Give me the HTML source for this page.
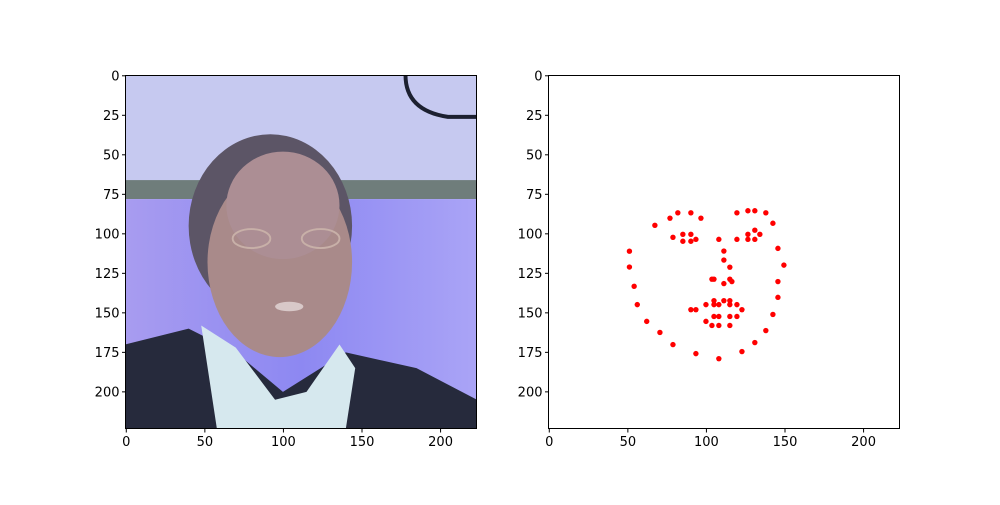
<!DOCTYPE html>
<html><head><meta charset="utf-8"><style>
body{margin:0;background:#fff;}
svg text{font-family:"DejaVu Sans","Liberation Sans",sans-serif;font-size:13px;fill:#000;}
</style></head><body>
<svg width="1000" height="500" viewBox="0 0 1000 500" xmlns="http://www.w3.org/2000/svg">
<rect width="1000" height="500" fill="#fff"/>
<g>
<svg x="125" y="75" width="352" height="354" viewBox="-0.5 -0.5 224 224" preserveAspectRatio="none">
<rect x="-0.5" y="-0.5" width="224" height="68" fill="#c6c9f0"/>
<rect x="-0.5" y="66" width="224" height="12" fill="#6f7d7b"/>
<defs><linearGradient id="pg" x1="0" x2="1"><stop offset="0" stop-color="#a89cf0"/><stop offset="0.5" stop-color="#8d88f2"/><stop offset="1" stop-color="#aaa4f6"/></linearGradient></defs>
<rect x="-0.5" y="78" width="224" height="146" fill="url(#pg)"/>
<path d="M178 -0.5 Q178 22 205 26 L223.5 26" fill="none" stroke="#1c2030" stroke-width="2.5"/>
<ellipse cx="92" cy="95" rx="52" ry="58" fill="#5c5566"/>
<ellipse cx="98" cy="118" rx="46" ry="60" fill="#a98a8a"/>
<ellipse cx="100" cy="82" rx="36" ry="34" fill="#ac8e94"/>
<path d="M-0.5 170 L40 160 L70 175 L100 200 L140 175 L185 185 L223.5 205 L223.5 223.5 L-0.5 223.5Z" fill="#262a3c"/>
<path d="M48 158 L70 172 L95 205 L115 200 L136 170 L146 185 L140 223.5 L58 223.5Z" fill="#d6e8ee"/>
<ellipse cx="80" cy="103" rx="12" ry="6" fill="none" stroke="#c8b0a8" stroke-width="1.2"/>
<ellipse cx="124" cy="103" rx="12" ry="6" fill="none" stroke="#c8b0a8" stroke-width="1.2"/>
<ellipse cx="104" cy="146" rx="9" ry="3" fill="#d8c8c8"/>
</svg>
<rect x="125.5" y="75.5" width="351" height="353" fill="none" stroke="#000" stroke-width="1"/>
<g id="lt"></g>
</g>
<g>
<rect x="548.5" y="75.5" width="351" height="353" fill="#fff" stroke="#000" stroke-width="1"/>
<g id="pts"></g>
<g id="rt"></g>
</g>
</svg>
<script>
const xTicks=[0,50,100,150,200];
const yTicks=[0,25,50,75,100,125,150,175,200];
const ptX=[51,51,54,56,62,70.4,78.7,93.3,107.9,122.6,130.8,137.8,142.3,145.5,145.5,149.3,145.5,
67.2,76.8,81.8,90.1,96.5,119.4,126.4,130.8,137.8,142.3,
107.9,111.1,111.1,114.9,103.5,104.8,111.1,114.9,116.2,
78.7,85,90.1,93.3,90.1,85,119.4,126.4,130.8,134,130.8,126.4,
90.1,93.3,99.7,104.8,111.1,114.9,119.4,122.6,119.4,114.9,107.9,104.8,99.7,103.5,107.9,114.9,104.8,107.9,114.9];
const ptY=[111,121,133.2,144.8,155.4,162.4,170.1,175.8,179,174.5,168.8,161.2,151,140.2,130.2,119.8,109.2,
94.6,90.1,86.7,86.7,90.1,86.7,85.4,85.4,86.7,93.3,
103.5,110.9,116.6,121.1,128.7,128.7,131.5,128.7,130.2,
102.2,100.3,100.3,103.5,104.7,104.7,103.5,100.3,97.7,100.3,103.5,103.5,
148,148,144.8,142.3,142.3,142.3,144.8,148,152.3,152.3,152.3,152.3,155.4,158,158,158,144.8,144.8,144.8];
const NS="http://www.w3.org/2000/svg";
const sc=352/224;
function ax(x0,v){return x0+(v+0.5)*sc;}
function ay(v){return 75+(v+0.5)*(354/224);}
function mk(t,a,p){const e=document.createElementNS(NS,t);for(const k in a)e.setAttribute(k,a[k]);p.appendChild(e);return e;}
function ticks(g,x0){
  xTicks.forEach(v=>{const x=ax(x0,v);
    const l=mk('line',{x1:x,x2:x,y1:429,y2:432.5,stroke:'#000'},g);
    
    
    const t=mk('text',{x:x,y:446,'text-anchor':'middle'},g);t.textContent=v;
    
    });
  yTicks.forEach(v=>{const y=ay(v);
    const l=mk('line',{x1:x0,x2:x0-3.5,y1:y,y2:y,stroke:'#000'},g);
    
    
    const t=mk('text',{x:x0-6,y:y+4.5,'text-anchor':'end'},g);t.textContent=v;
    
    });
}
ticks(document.getElementById('lt'),125.5);
ticks(document.getElementById('rt'),548.5);
const pg=document.getElementById('pts');
ptX.forEach((v,i)=>{const c=mk('circle',{cx:ax(548.5,v),cy:ay(ptY[i]),r:2.7,fill:'#ff0000'},pg);
  
  });
</script>
</body></html>
